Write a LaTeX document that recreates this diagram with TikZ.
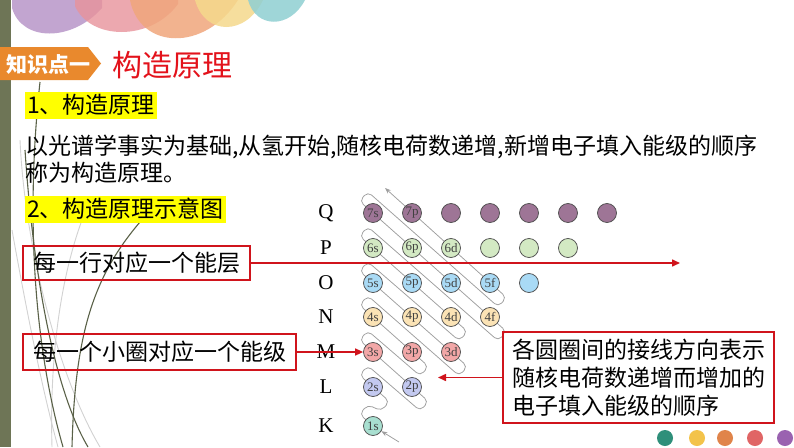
\documentclass[tikz,border=0pt]{standalone}
\usepackage{fontspec}
\setmainfont{Noto Sans CJK SC}
\newfontfamily\latinserif{Liberation Serif}
\usetikzlibrary{arrows.meta}
\definecolor{boxred}{HTML}{D0141C}
\definecolor{titlered}{HTML}{E3121B}
\definecolor{knorange}{HTML}{E9892D}
\definecolor{hlyellow}{HTML}{FFFF00}
\definecolor{barolive}{HTML}{6E7556}
\definecolor{curvedark}{HTML}{5A6148}
\definecolor{curvelight}{HTML}{D2D2D2}
\definecolor{serpgray}{HTML}{9E9E9E}
\definecolor{qcol}{HTML}{9E7596}
\definecolor{pcol}{HTML}{D3E9C3}
\definecolor{ocol}{HTML}{A9DAF5}
\definecolor{ncol}{HTML}{FBE3B5}
\definecolor{mcol}{HTML}{F2A7A7}
\definecolor{lcol}{HTML}{C3C9F0}
\definecolor{kcol}{HTML}{A8DFD0}
\definecolor{wpurple}{HTML}{B896C8}
\definecolor{wpink}{HTML}{E8939B}
\definecolor{wsalmon}{HTML}{F0A67C}
\definecolor{wyellow}{HTML}{F5D98C}
\definecolor{wteal}{HTML}{8FCFD2}
\definecolor{dteal}{HTML}{2F8F7A}
\definecolor{dyellow}{HTML}{F3C34A}
\definecolor{dorange}{HTML}{E0844A}
\definecolor{dred}{HTML}{E06565}
\definecolor{dpurple}{HTML}{9A62B0}
\begin{document}
\begin{tikzpicture}[x=1pt,y=-1pt,
  orb/.style={circle,draw=black!70,line width=0.75pt,minimum size=19pt,inner sep=0pt,
    font=\latinserif\fontsize{13}{13}\selectfont,text=black!75},
  rowlab/.style={font=\latinserif\fontsize{21}{21}\selectfont,inner sep=0pt},
  redbox/.style={draw=boxred,line width=1.3pt,inner sep=0pt,font=\fontsize{23}{28}\selectfont},
  redarrow/.style={draw=boxred,line width=1.5pt,-{Triangle[length=8pt,width=7pt]}},
  hlbox/.style={fill=hlyellow,inner xsep=2pt,inner ysep=0pt,minimum height=27pt,anchor=west,
    font=\fontsize{23}{23}\selectfont},
  serp/.style={draw=serpgray,line width=0.75pt},
  dcurve/.style={draw=curvedark,line width=1.1pt},
  lcurve/.style={draw=curvelight,line width=0.9pt},
  dot/.style={circle,inner sep=0pt,minimum size=16pt}
]
\useasboundingbox (0,0) rectangle (794,447);
\fill[white] (0,0) rectangle (794,447);

% top waves
\fill[wpurple,opacity=0.85] (12,0) -- (12,8) .. controls (22,42) and (72,42) .. (102,8) -- (102,0) -- cycle;
\fill[wpink,opacity=0.8] (75,0) -- (75,6) .. controls (90,40) and (150,42) .. (178,4) -- (178,0) -- cycle;
\fill[wsalmon,opacity=0.85] (130,0) .. controls (140,50) and (205,52) .. (238,0) -- cycle;
\fill[wyellow,opacity=0.85] (195,0) .. controls (205,36) and (246,36) .. (263,0) -- cycle;
\fill[wteal,opacity=0.85] (248,0) .. controls (256,29) and (290,29) .. (305,0) -- cycle;

% left bar
\fill[barolive] (0,0) rectangle (11,447);

% decorative curves
\draw[lcurve] (12,230) .. controls (30,330) and (45,400) .. (58,447);
\draw[lcurve] (90,200) .. controls (55,280) and (50,380) .. (52,447);
\draw[lcurve] (20,140) .. controls (25,250) and (60,380) .. (100,447);
\draw[dcurve] (40,82) .. controls (25,220) and (35,350) .. (63,447);
\draw[dcurve] (25,150) .. controls (35,300) and (60,400) .. (88,447);
\draw[dcurve] (140,222) .. controls (95,275) and (75,330) .. (72,447);

% header
\fill[knorange] (0,47) -- (88,47) -- (101,63.5) -- (88,80) -- (0,80) -- cycle;
\node[text=white,font=\bfseries\fontsize{21}{21}\selectfont,anchor=west,inner sep=0pt] (kp) at (6,64) {知识点一};
\node[text=titlered,font=\fontsize{30}{30}\selectfont,anchor=west,inner sep=0pt] (title) at (112,65) {构造原理};

\node[hlbox] (h1) at (25,105) {1、构造原理};
\node[anchor=west,align=left,inner sep=0pt,font=\fontsize{23}{27}\selectfont] (para) at (25,159.5)
  {以光谱学事实为基础,从氢开始,随核电荷数递增,新增电子填入能级的顺序\\称为构造原理。};
\node[hlbox] (h2) at (25,209) {2、构造原理示意图};

% row labels
\node[rowlab] (lq) at (326,213) {Q};
\node[rowlab] (lp) at (326,248) {P};
\node[rowlab] (lo) at (326,283) {O};
\node[rowlab] (ln) at (326,317) {N};
\node[rowlab] (lm) at (326,352) {M};
\node[rowlab] (ll) at (326,387) {L};
\node[rowlab] (lk) at (326,426) {K};

% serpentine
\coordinate (c1s) at (373,426);
\coordinate (st) at (399,442);
\coordinate (tipend) at (385,188);
\draw[serp,rounded corners=5pt,-{Stealth[length=6pt,width=4.5pt]}]
 (c1s) -- (359.5,414.1) -- (367.75,404.7) -- (381.25,410.9) -- (389.5,401.5)
 -- (359.5,375.1) -- (367.75,365.7) -- (420.25,410.9) -- (428.5,401.5)
 -- (359.5,340.1) -- (367.75,330.7) -- (420.25,375.9) -- (428.5,366.5)
 -- (359.5,305.1) -- (367.75,295.7) -- (459.25,375.9) -- (467.5,366.5)
 -- (359.5,271.1) -- (367.75,261.7) -- (459.25,340.9) -- (467.5,331.5)
 -- (359.5,236.1) -- (367.75,226.7) -- (498.25,340.9) -- (506.5,331.5)
 -- (359.5,201.1) -- (367.75,191.7) -- (498.25,306.9) -- (506.5,297.5)
 -- (tipend);

% orbitals
\node[orb,fill=qcol] (o7s) at (373,213) {7s};
\node[orb,fill=qcol] (o7p) at (412,213) {7p};
\node[orb,fill=qcol] (q3) at (451,213) {};
\node[orb,fill=qcol] (q4) at (490,213) {};
\node[orb,fill=qcol] (q5) at (529,213) {};
\node[orb,fill=qcol] (q6) at (568,213) {};
\node[orb,fill=qcol] (q7) at (607,213) {};
\node[orb,fill=pcol] (o6s) at (373,248) {6s};
\node[orb,fill=pcol] (o6p) at (412,248) {6p};
\node[orb,fill=pcol] (o6d) at (451,248) {6d};
\node[orb,fill=pcol] (p4) at (490,248) {};
\node[orb,fill=pcol] (p5) at (529,248) {};
\node[orb,fill=pcol] (p6) at (568,248) {};
\node[orb,fill=ocol] (o5s) at (373,283) {5s};
\node[orb,fill=ocol] (o5p) at (412,283) {5p};
\node[orb,fill=ocol] (o5d) at (451,283) {5d};
\node[orb,fill=ocol] (o5f) at (490,283) {5f};
\node[orb,fill=ocol] (o5g) at (529,283) {};
\node[orb,fill=ncol] (o4s) at (373,317) {4s};
\node[orb,fill=ncol] (o4p) at (412,317) {4p};
\node[orb,fill=ncol] (o4d) at (451,317) {4d};
\node[orb,fill=ncol] (o4f) at (490,317) {4f};
\node[orb,fill=mcol] (o3s) at (373,352) {3s};
\node[orb,fill=mcol] (o3p) at (412,352) {3p};
\node[orb,fill=mcol] (o3d) at (451,352) {3d};
\node[orb,fill=lcol] (o2s) at (373,387) {2s};
\node[orb,fill=lcol] (o2p) at (412,387) {2p};
\node[orb,fill=kcol] (o1s) at (c1s) {1s};
\draw[serp,-{Stealth[length=6pt,width=4.5pt]}] (st) -- (o1s);

% annotations
\node[redbox,minimum width=227pt,minimum height=34pt] (box1) at (136.5,263) {每一行对应一个能层};
\node[redbox,minimum width=273pt,minimum height=36pt] (box2) at (159.5,352) {每一个小圈对应一个能级};
\node[redbox,minimum width=271pt,minimum height=91pt,align=left,text width=253pt] (box3) at (638.5,377.5)
  {各圆圈间的接线方向表示\\随核电荷数递增而增加的\\电子填入能级的顺序};
\coordinate (a1) at (680,263);
\coordinate (a3) at (438,377.5);
\draw[redarrow] (box1.east) -- (a1);
\draw[redarrow] (box2.east) -- (o3s.west);
\draw[redarrow] (box3.west) -- (a3);

% bottom dots
\node[dot,fill=dteal] (d1) at (665,438) {};
\node[dot,fill=dyellow] (d2) at (697,438) {};
\node[dot,fill=dorange] (d3) at (725,438) {};
\node[dot,fill=dred] (d4) at (755,438) {};
\node[dot,fill=dpurple] (d5) at (785,438) {};
\end{tikzpicture}
\end{document}
